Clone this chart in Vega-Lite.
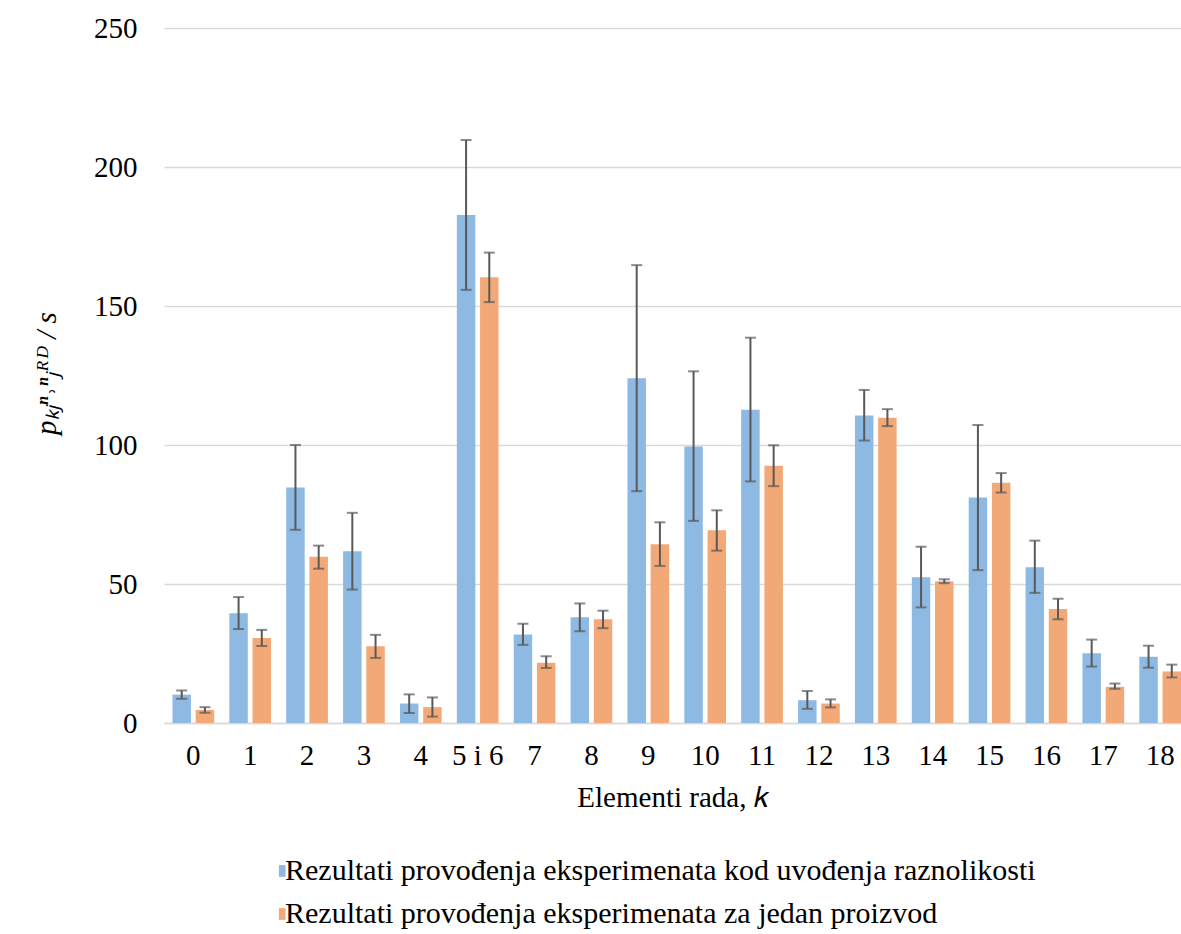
{
  "$schema": "https://vega.github.io/schema/vega-lite/v6.json",
  "width": 1017,
  "height": 695,
  "autosize": {"type": "none"},
  "padding": {"left": 164, "top": 28, "right": 0, "bottom": 211},
  "background": "white",
  "config": {"view": {"stroke": null}, "font": "Liberation Serif"},
  "data": {
    "values": [
      {"k": "0", "serija": "Rezultati provođenja eksperimenata kod uvođenja raznolikosti", "v": 10.2, "lo": 8.7, "hi": 11.7},
      {"k": "0", "serija": "Rezultati provođenja eksperimenata za jedan proizvod", "v": 4.7, "lo": 3.7, "hi": 5.7},
      {"k": "1", "serija": "Rezultati provođenja eksperimenata kod uvođenja raznolikosti", "v": 39.5, "lo": 33.8, "hi": 45.3},
      {"k": "1", "serija": "Rezultati provođenja eksperimenata za jedan proizvod", "v": 30.6, "lo": 27.7, "hi": 33.5},
      {"k": "2", "serija": "Rezultati provođenja eksperimenata kod uvođenja raznolikosti", "v": 84.7, "lo": 69.5, "hi": 100.0},
      {"k": "2", "serija": "Rezultati provođenja eksperimenata za jedan proizvod", "v": 59.8, "lo": 55.5, "hi": 63.8},
      {"k": "3", "serija": "Rezultati provođenja eksperimenata kod uvođenja raznolikosti", "v": 61.8, "lo": 48.0, "hi": 75.6},
      {"k": "3", "serija": "Rezultati provođenja eksperimenata za jedan proizvod", "v": 27.6, "lo": 23.4, "hi": 31.7},
      {"k": "4", "serija": "Rezultati provođenja eksperimenata kod uvođenja raznolikosti", "v": 7.0, "lo": 3.6, "hi": 10.3},
      {"k": "4", "serija": "Rezultati provođenja eksperimenata za jedan proizvod", "v": 5.7, "lo": 2.3, "hi": 9.2},
      {"k": "5 i 6", "serija": "Rezultati provođenja eksperimenata kod uvođenja raznolikosti", "v": 182.7, "lo": 155.8, "hi": 209.7},
      {"k": "5 i 6", "serija": "Rezultati provođenja eksperimenata za jedan proizvod", "v": 160.3, "lo": 151.4, "hi": 169.2},
      {"k": "7", "serija": "Rezultati provođenja eksperimenata kod uvođenja raznolikosti", "v": 31.8, "lo": 28.1, "hi": 35.7},
      {"k": "7", "serija": "Rezultati provođenja eksperimenata za jedan proizvod", "v": 21.7, "lo": 19.8, "hi": 24.0},
      {"k": "8", "serija": "Rezultati provođenja eksperimenata kod uvođenja raznolikosti", "v": 38.0, "lo": 33.0, "hi": 43.0},
      {"k": "8", "serija": "Rezultati provođenja eksperimenata za jedan proizvod", "v": 37.3, "lo": 34.1, "hi": 40.4},
      {"k": "9", "serija": "Rezultati provođenja eksperimenata kod uvođenja raznolikosti", "v": 124.0, "lo": 83.4, "hi": 164.7},
      {"k": "9", "serija": "Rezultati provođenja eksperimenata za jedan proizvod", "v": 64.3, "lo": 56.5, "hi": 72.2},
      {"k": "10", "serija": "Rezultati provođenja eksperimenata kod uvođenja raznolikosti", "v": 99.5, "lo": 72.7, "hi": 126.5},
      {"k": "10", "serija": "Rezultati provođenja eksperimenata za jedan proizvod", "v": 69.3, "lo": 62.0, "hi": 76.5},
      {"k": "11", "serija": "Rezultati provođenja eksperimenata kod uvođenja raznolikosti", "v": 112.7, "lo": 86.9, "hi": 138.6},
      {"k": "11", "serija": "Rezultati provođenja eksperimenata za jedan proizvod", "v": 92.5, "lo": 85.2, "hi": 99.9},
      {"k": "12", "serija": "Rezultati provođenja eksperimenata kod uvođenja raznolikosti", "v": 8.2, "lo": 5.1, "hi": 11.5},
      {"k": "12", "serija": "Rezultati provođenja eksperimenata za jedan proizvod", "v": 7.0, "lo": 5.6, "hi": 8.5},
      {"k": "13", "serija": "Rezultati provođenja eksperimenata kod uvođenja raznolikosti", "v": 110.6, "lo": 101.6, "hi": 119.8},
      {"k": "13", "serija": "Rezultati provođenja eksperimenata za jedan proizvod", "v": 109.8, "lo": 106.8, "hi": 112.9},
      {"k": "14", "serija": "Rezultati provođenja eksperimenata kod uvođenja raznolikosti", "v": 52.4, "lo": 41.6, "hi": 63.4},
      {"k": "14", "serija": "Rezultati provođenja eksperimenata za jedan proizvod", "v": 51.0, "lo": 50.3, "hi": 51.7},
      {"k": "15", "serija": "Rezultati provođenja eksperimenata kod uvođenja raznolikosti", "v": 81.1, "lo": 55.0, "hi": 107.2},
      {"k": "15", "serija": "Rezultati provođenja eksperimenata za jedan proizvod", "v": 86.4, "lo": 82.9, "hi": 89.9},
      {"k": "16", "serija": "Rezultati provođenja eksperimenata kod uvođenja raznolikosti", "v": 56.0, "lo": 46.8, "hi": 65.6},
      {"k": "16", "serija": "Rezultati provođenja eksperimenata za jedan proizvod", "v": 41.0, "lo": 37.3, "hi": 44.7},
      {"k": "17", "serija": "Rezultati provođenja eksperimenata kod uvođenja raznolikosti", "v": 25.1, "lo": 20.3, "hi": 30.0},
      {"k": "17", "serija": "Rezultati provođenja eksperimenata za jedan proizvod", "v": 13.0, "lo": 12.3, "hi": 14.2},
      {"k": "18", "serija": "Rezultati provođenja eksperimenata kod uvođenja raznolikosti", "v": 23.8, "lo": 19.9, "hi": 27.8},
      {"k": "18", "serija": "Rezultati provođenja eksperimenata za jedan proizvod", "v": 18.5, "lo": 16.4, "hi": 21.0}
    ]
  },
  "encoding": {
    "x": {
      "field": "k",
      "type": "nominal",
      "sort": null,
      "scale": {"paddingInner": 0.267, "paddingOuter": 0.0745, "align": 1},
      "axis": {
        "labelAngle": 0,
        "labelFont": "Liberation Serif",
        "labelFontSize": 29,
        "labelColor": "#000000",
        "labelPadding": 18,
        "ticks": false,
        "domain": true,
        "domainColor": "#D9D9D9",
        "domainWidth": 1.5,
        "grid": false,
        "title": "Elementi rada, 𝑘",
        "titleFont": "Liberation Serif",
        "titleFontSize": 29,
        "titleFontWeight": "normal",
        "titleColor": "#000000",
        "titlePadding": 13
      }
    },
    "xOffset": {
      "field": "serija",
      "type": "nominal",
      "sort": ["Rezultati provođenja eksperimenata kod uvođenja raznolikosti", "Rezultati provođenja eksperimenata za jedan proizvod"],
      "scale": {"paddingInner": 0.2045, "paddingOuter": 0}
    }
  },
  "layer": [
    {
      "mark": {"type": "bar"},
      "encoding": {
        "y": {
          "field": "v",
          "type": "quantitative",
          "scale": {"domain": [0, 250], "nice": false},
          "axis": {
            "values": [0, 50, 100, 150, 200, 250],
            "labelFont": "Liberation Serif",
            "labelFontSize": 29,
            "labelColor": "#000000",
            "labelPadding": 27,
            "ticks": false,
            "domain": false,
            "grid": true,
            "gridColor": "#D9D9D9",
            "gridWidth": 1.5,
            "title": "pₖⱼⁿ˒ⁿⱼᴿᴰ / s",
            "titleFont": "Liberation Serif",
            "titleFontSize": 29,
            "titleFontStyle": "italic",
            "titleFontWeight": "normal",
            "titleColor": "#000000",
            "titleX": -118,
            "titleY": 345,
            "titleBaseline": "middle"
          }
        },
        "color": {
          "field": "serija",
          "type": "nominal",
          "sort": ["Rezultati provođenja eksperimenata kod uvođenja raznolikosti", "Rezultati provođenja eksperimenata za jedan proizvod"],
          "scale": {"range": ["#8DB9E2", "#F2A877"]},
          "legend": {
            "orient": "none",
            "legendX": 89,
            "legendY": 828,
            "direction": "vertical",
            "title": null,
            "labelFont": "Liberation Serif",
            "labelFontSize": 30,
            "labelColor": "#000000",
            "labelLimit": 1200,
            "labelOffset": 2,
            "symbolType": "M 2.6 -1.4 L 4.2 -1.4 L 4.2 1.4 L 2.6 1.4 Z",
            "symbolSize": 70,
            "rowPadding": 13
          }
        }
      }
    },
    {
      "mark": {"type": "rule", "color": "#595959", "strokeWidth": 2},
      "encoding": {
        "y": {"field": "lo", "type": "quantitative"},
        "y2": {"field": "hi"}
      }
    },
    {
      "mark": {"type": "tick", "color": "#595959", "thickness": 2, "size": 11},
      "encoding": {"y": {"field": "lo", "type": "quantitative"}}
    },
    {
      "mark": {"type": "tick", "color": "#595959", "thickness": 2, "size": 11},
      "encoding": {"y": {"field": "hi", "type": "quantitative"}}
    }
  ]
}
